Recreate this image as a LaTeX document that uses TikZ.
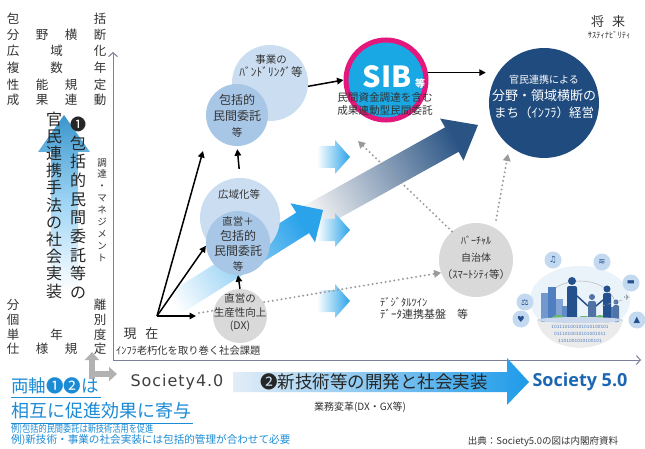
\documentclass[tikz,border=0pt]{standalone}
\usepackage{fontspec}
\setmainfont{Noto Sans CJK JP}
\newfontfamily\dejavu{DejaVu Sans}
\newfontfamily\opensans{Open Sans}
\newcommand\jfs[2]{\fontsize{#1}{#2}\selectfont}
\newcommand\spreadrow[1]{\makebox[99.5pt][s]{#1}}
\usetikzlibrary{arrows.meta}
\definecolor{txt}{HTML}{333333}
\definecolor{axisc}{HTML}{7C8099}
\definecolor{lightc}{HTML}{CADDF1}
\definecolor{midc}{HTML}{A8C7E7}
\definecolor{grayc}{HTML}{D9D9D9}
\definecolor{sibfill}{HTML}{1AA8E5}
\definecolor{sibring}{HTML}{E4187C}
\definecolor{navy}{HTML}{1F4B7E}
\definecolor{skyarrow}{HTML}{2BA3EA}
\definecolor{bluetext}{HTML}{1C8BD6}
\definecolor{soc}{HTML}{1B67B3}
\definecolor{dotc}{HTML}{9A9A9A}
\definecolor{bandl}{HTML}{E3EDF7}
\definecolor{bandr}{HTML}{1E9BE9}
\definecolor{cityb}{HTML}{4F7FC0}
\definecolor{cityd}{HTML}{25508E}
\definecolor{iconc}{HTML}{C3D9F0}
\begin{document}
\begin{tikzpicture}[x=1pt,y=-1pt,
  tx/.style={inner sep=0pt, text=txt},
  circ/.style={circle, inner sep=0pt, align=center, text=txt},
  arr/.style={black, line width=1.5pt, -{Triangle[length=6.5pt,width=6.5pt]}},
  dotarr/.style={dotc, line width=2.2pt, line cap=round, dash pattern=on 0pt off 4.4pt, -{Triangle[length=7pt,width=7.5pt]}},
  axisline/.style={axisc, line width=1pt, {Straight Barb[length=4pt,width=9pt]}-{Straight Barb[length=4pt,width=9pt]}},
  chev/.style={left color=white, right color=skyarrow},
  icon/.style={circle, fill=iconc, minimum size=17pt, inner sep=0pt, text=cityd, font=\dejavu\fontsize{8.5}{8.5}\selectfont},
  grayarr/.style={black!30, line width=5.5pt, -{Triangle[length=8pt,width=14pt]}}]
\useasboundingbox (0,0) rectangle (645,449);
\fill[white] (0,0) rectangle (645,449);

% ---- left axis: rising blue arrow behind the vertical title
\shade[top color=skyarrow!85!black!90, bottom color=white, middle color=skyarrow!45]
  (64,115) -- (90,152) -- (78,152) -- (78,292) -- (51,292) -- (51,152) -- (38,152) -- cycle;

% ---- contract styles: target (top) and current (bottom)
\begin{scope}[every node/.style={tx, font=\jfs{12.5}{12.5}}]
\node (r1) at (56.5,19) {\spreadrow{包\hfill 括}};
\node (r2) at (56.5,35) {\spreadrow{分\hfill 野\hfill 横\hfill 断}};
\node (r3) at (56.5,51) {\spreadrow{広\hfill 域\hfill 化}};
\node (r4) at (56.5,68) {\spreadrow{複\hfill 数\hfill 年}};
\node (r5) at (56.5,85) {\spreadrow{性\hfill 能\hfill 規\hfill 定}};
\node (r6) at (56.5,100) {\spreadrow{成\hfill 果\hfill 連\hfill 動}};
\node (b1) at (56.5,305) {\spreadrow{分\hfill 離}};
\node (b2) at (56.5,320) {\spreadrow{個\hfill 別}};
\node (b3) at (56.5,335) {\spreadrow{単\hfill 年\hfill 度}};
\node (b4) at (56.5,349) {\spreadrow{仕\hfill 様\hfill 規\hfill 定}};
\end{scope}

\node[tx, align=center, font=\jfs{16}{18.7}, text=black!85] (axis1a) at (78,208)
  {❶\\包\\括\\的\\民\\間\\委\\託\\等\\の};
\node[tx, align=center, font=\jfs{16}{17.2}, text=black!85] (axis1b) at (54,205)
  {官\\民\\連\\携\\手\\法\\の\\社\\会\\実\\装};
\node[tx, align=center, font=\jfs{9.5}{11.9}] (procure) at (102,210)
  {調\\達\\・\\マ\\ネ\\ジ\\メ\\ン\\ト};

% ---- axes
\coordinate (axo) at (113,360);
\coordinate (axt) at (113,52);
\coordinate (axr) at (641,360);
\draw[axisline] (axt) -- (axo) -- (axr);

% ---- large progress arrows
\shade[left color=black!5, middle color=navy!45, right color=navy!95, shading angle=119]
  (293.2,211.8) -- (445.0,127.4) -- (440.1,118.6) -- (478,125) -- (463.5,160.6)
  -- (458.6,151.8) -- (306.8,236.2) -- cycle;
\shade[chev] (317,146) -- (335,146) -- (335,140) -- (350,157) -- (335,174) -- (335,168) -- (317,168) -- cycle;
\shade[chev] (317,219) -- (335,219) -- (335,213) -- (350,230) -- (335,247) -- (335,241) -- (317,241) -- cycle;
\shade[chev] (317,290) -- (335,290) -- (335,284) -- (350,301) -- (335,318) -- (335,312) -- (317,312) -- cycle;
\shade[left color=white, middle color=skyarrow!45, right color=skyarrow, shading angle=122]
  (151.6,303.8) -- (296.3,212.6) -- (290.4,203.3) -- (323,210) -- (315,242.3)
  -- (309.1,233) -- (164.4,324.2) -- cycle;

% ---- circles
\node[circ, fill=grayc, minimum size=74pt] (virt) at (476,260) {};
\coordinate (origin) at (157,316);
\coordinate (d1s) at (199,313);
\coordinate (d2e) at (358,141);
\coordinate (d3e) at (508,154);
\draw[dotarr] (d1s) -- (virt.200);
\draw[dotarr] (virt.130) -- (d2e);
\draw[dotarr, shorten <=8pt] (virt.60) -- (d3e);

\node[circ, fill=lightc, minimum size=76pt] (jigyo) at (270,83) {};
\node[circ, fill=midc, minimum size=62pt, font=\jfs{12}{16}] (hokatsu) at (237,115) {};
\node[circ, fill=lightc, minimum size=80pt] (koiki) at (240,218) {};
\node[circ, fill=midc, minimum size=64pt] (choku) at (238,243) {};
\node[circ, fill=grayc, minimum size=54pt] (chokuei) at (240,316) {};
\node[circ, fill=sibfill, draw=sibring, line width=5pt, minimum size=80pt] (sib) at (386,80) {};
\node[circ, fill=navy, minimum size=110pt] (navy) at (544,103) {};

% ---- circle texts
\node[tx, align=center, font=\jfs{10.5}{13}] (jigyotxt) at (271,66) {事業の\\{\jfs{11.5}{13}ﾊﾞﾝﾄﾞﾘﾝｸﾞ等}};
\node[tx, align=center, font=\jfs{12}{16}] (hokatsutxt) at (237,116) {包括的\\民間委託\\{\jfs{10.5}{16}等}};
\node[tx, font=\jfs{10.5}{10.5}] (koikitxt) at (239,195) {広域化等};
\node[tx, align=center, font=\jfs{12}{15}] (chokutxt) at (238,244)
  {{\jfs{10.5}{15}直営＋}\\包括的\\民間委託\\{\jfs{10.5}{15}等}};
\node[tx, align=center, font=\jfs{10.5}{13.5}] (chokueitxt) at (240,313) {直営の\\生産性向上\\(DX)};
\node[tx, align=center, font=\jfs{10}{17}] (virttxt) at (476,258) {ﾊﾞｰﾁｬﾙ\\自治体\\{\jfs{10.5}{17}（ｽﾏｰﾄｼﾃｨ等）}};
\node[tx, text=white, font=\bfseries\jfs{29}{29}] (sibtxt) at (387,77) {SIB};
\node[tx, text=white, font=\bfseries\jfs{10}{10}] (sibeq) at (420,84) {等};
\node[tx, align=center, font=\jfs{10.6}{12.5}] (sibsub) at (385,104) {民間資金調達を含む\\成果連動型民間委託};
\node[tx, align=center, text=white, font=\jfs{13}{17}] (navytxt) at (544,97)
  {{\jfs{10}{17}官民連携による}\\分野・領域横断の\\{\jfs{12.5}{17}まち（ｲﾝﾌﾗ）経営}};

% ---- solid connectors
\coordinate (t1) at (203,151);
\coordinate (t3) at (196,316);
\draw[arr] (origin) -- (t1);
\draw[arr] (origin) -- (choku.185);
\draw[arr] (origin) -- (t3);
\draw[arr] (chokuei.north) -- (choku.south);
\draw[arr, shorten <=9pt, shorten >=3pt] (koiki.north) -- (hokatsu.south);
\draw[arr] (jigyo.-5) -- (sib.west);
\draw[arr, shorten >=3pt] (sib.10) -- (sib.10 -| navy.west);

% ---- other labels
\node[tx, font=\jfs{13}{13}] (now) at (141,334) {現\hspace{9pt}在};
\node[tx, anchor=west, font=\jfs{10.3}{10.3}] (nowsub) at (116,351) {ｲﾝﾌﾗ老朽化を取り巻く社会課題};
\node[tx, font=\jfs{13}{13}] (future) at (608,22) {将\hspace{8pt}来};
\node[tx, font=\jfs{8.5}{8.5}] (sustain) at (609,35) {ｻｽﾃｨﾅﾋﾞﾘﾃｨ};
\node[tx, anchor=west, font=\jfs{10.5}{10.5}] (twin) at (380,302) {ﾃﾞｼﾞﾀﾙﾂｲﾝ};
\node[tx, anchor=west, font=\jfs{11}{11}] (datab) at (380,314) {ﾃﾞｰﾀ連携基盤　等};

% ---- Society 5.0 city
\fill[iconc!35] (580,300) ellipse [x radius=50, y radius=34];
\fill[black!8] (537,320) .. controls (540,336) and (556,347) .. (580,348) .. controls (604,347) and (620,336) .. (623,320) -- cycle;
\node[tx, text=cityb, font=\dejavu\fontsize{4.3}{4.3}\selectfont] (bin1) at (580,327) {101110100101010100101};
\node[tx, text=cityb, font=\dejavu\fontsize{4.3}{4.3}\selectfont] (bin2) at (580,334) {0111010010101001011};
\node[tx, text=cityb, font=\dejavu\fontsize{4.3}{4.3}\selectfont] (bin3) at (580,341) {1101001010100101};
\draw[black!25, line width=0.6pt] (545,302) .. controls (553,274) and (607,274) .. (615,302);
\fill[cityb!80] (541,293) rectangle (549,322);
\fill[cityb] (548,287) rectangle (556,322);
\fill[cityb!70] (556,299) rectangle (563,322);
\fill[cityb!90] (562,306) rectangle (569,322);
\fill[cityb!75] (603,301) rectangle (611,322);
\fill[cityb] (611,307) rectangle (619,322);
\fill[green!55!black!60] (558,318) ellipse [x radius=6, y radius=3];
\fill[green!55!black!60] (584,319) ellipse [x radius=7, y radius=3];
\fill[green!55!black!60] (600,318) ellipse [x radius=5, y radius=3];
\fill[cityd] (572,281) circle [radius=4];
\fill[cityd, rounded corners=2pt] (567,286) rectangle (577,322);
\fill[cityd!80] (592,297) circle [radius=3];
\fill[cityd!80, rounded corners=2pt] (588,301) rectangle (596,322);
\fill[cityd] (607,289) circle [radius=3.5];
\fill[cityd, rounded corners=2pt] (603,293) rectangle (611,322);
\fill[cityd!80] (616,302) circle [radius=2.5];
\fill[cityd!80, rounded corners=1.5pt] (613,305) rectangle (619,322);
\draw[cityd, line width=1.5pt] (577,296) -- (588,306);
\draw[cityd, line width=1.5pt] (596,306) -- (603,300);
\fill[white!70!cityb] (580,320) ellipse [x radius=43, y radius=3];
\node[icon] (ic1) at (553,260) {♫};
\node[icon] (ic2) at (602,262) {≋};
\node[icon] (ic3) at (525,302) {⚖};
\node[icon] (ic4) at (631,283) {▬};
\node[icon] (ic5) at (637,320) {▲};
\node[icon] (ic6) at (521,319) {♥};
\draw[black!35, dashed, line width=0.5pt] (602,306) -- (622,300);
\node[tx, text=black!45, font=\dejavu\fontsize{8}{8}\selectfont] (plane) at (627,298) {✈};

% ---- bottom band
\draw[grayarr] (92,379) -- (92,352);
\draw[grayarr] (89,374) -- (117,374);
\node[tx, text=black!75, font=\dejavu\fontsize{16}{16}\selectfont\addfontfeature{LetterSpace=6}] (soc4) at (177,382) {Society4.0};
\shade[left color=bandl, middle color=bandl!60!bandr, right color=bandr]
  (233,372) -- (507,372) -- (507,358) -- (529,382) -- (507,405) -- (507,392) -- (233,392) -- cycle;
\node[tx, text=black!85, font=\jfs{17.5}{17.5}] (band) at (374,382) {❷新技術等の開発と社会実装};
\node[tx, text=soc, font=\opensans\bfseries\fontsize{18}{18}\selectfont] (soc5) at (580,382) {Society 5.0};
\node[tx, font=\jfs{10}{10}] (bandsub) at (360,407) {業務変革(DX・GX等)};

\node[tx, anchor=west, text=bluetext, font=\jfs{17.5}{17.5}] (both1) at (11,386) {両軸❶❷は};
\draw[bluetext, line width=1pt] (11,397) -- (101,397);
\node[tx, anchor=west, text=bluetext, font=\jfs{18}{18}] (both2) at (11,411) {相互に促進効果に寄与};
\draw[bluetext, line width=1pt] (11,423) -- (193,423);
\node[tx, anchor=west, text=bluetext, font=\jfs{10}{10}] (ex1) at (11,429) {\scalebox{0.82}[1]{例)包括的民間委託は新技術活用を促進}};
\node[tx, anchor=west, text=bluetext, font=\jfs{10.6}{10.6}] (ex2) at (11,440) {例)新技術・事業の社会実装には包括的管理が合わせて必要};
\node[tx, font=\jfs{9.5}{9.5}] (source) at (543,442) {出典：Society5.0の図は内閣府資料};
\end{tikzpicture}
\end{document}
